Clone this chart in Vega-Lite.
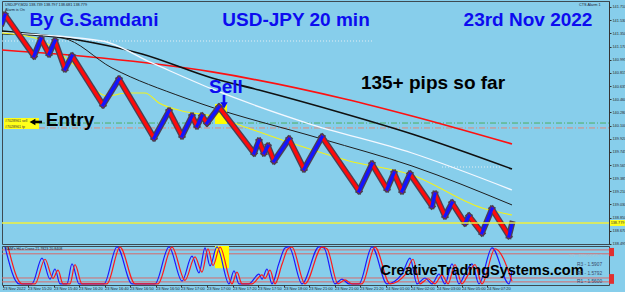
{
  "$schema": "https://vega.github.io/schema/vega-lite/v6.json",
  "background": "#87ceeb",
  "padding": 0,
  "spacing": 2,
  "bounds": "flush",
  "config": {"view": {"stroke": "#3d4a52", "strokeWidth": 1, "fill": "#87ceeb"}},
  "datasets": {
    "renko": [
      {"leg":0,"d":"up","n":0,"p":141.492},{"leg":0,"d":"up","n":3,"p":141.601},
      {"leg":1,"d":"dn","n":3,"p":141.601},{"leg":1,"d":"dn","n":32,"p":141.045},
      {"leg":2,"d":"up","n":32,"p":141.045},{"leg":2,"d":"up","n":39,"p":141.275},
      {"leg":3,"d":"dn","n":39,"p":141.275},{"leg":3,"d":"dn","n":47,"p":141.072},
      {"leg":4,"d":"up","n":47,"p":141.072},{"leg":4,"d":"up","n":53,"p":141.248},
      {"leg":5,"d":"dn","n":53,"p":141.248},{"leg":5,"d":"dn","n":63,"p":140.868},
      {"leg":6,"d":"up","n":63,"p":140.868},{"leg":6,"d":"up","n":70,"p":141.045},
      {"leg":7,"d":"dn","n":70,"p":141.045},{"leg":7,"d":"dn","n":101,"p":140.380},
      {"leg":8,"d":"up","n":101,"p":140.380},{"leg":8,"d":"up","n":117,"p":140.732},
      {"leg":9,"d":"dn","n":117,"p":140.732},{"leg":9,"d":"dn","n":152,"p":139.932},
      {"leg":10,"d":"up","n":152,"p":139.932},{"leg":10,"d":"up","n":167,"p":140.298},
      {"leg":11,"d":"dn","n":167,"p":140.298},{"leg":11,"d":"dn","n":180,"p":139.959},
      {"leg":12,"d":"up","n":180,"p":139.959},{"leg":12,"d":"up","n":190,"p":140.230},
      {"leg":13,"d":"dn","n":190,"p":140.230},{"leg":13,"d":"dn","n":195,"p":140.095},
      {"leg":14,"d":"up","n":195,"p":140.095},{"leg":14,"d":"up","n":200,"p":140.230},
      {"leg":15,"d":"dn","n":200,"p":140.230},{"leg":15,"d":"dn","n":205,"p":140.135},
      {"leg":16,"d":"up","n":205,"p":140.135},{"leg":16,"d":"up","n":217,"p":140.352},
      {"leg":17,"d":"dn","n":217,"p":140.352},{"leg":17,"d":"dn","n":252,"p":139.728},
      {"leg":18,"d":"up","n":252,"p":139.728},{"leg":18,"d":"up","n":257,"p":139.891},
      {"leg":19,"d":"dn","n":257,"p":139.891},{"leg":19,"d":"dn","n":262,"p":139.728},
      {"leg":20,"d":"up","n":262,"p":139.728},{"leg":20,"d":"up","n":266,"p":139.823},
      {"leg":21,"d":"dn","n":266,"p":139.823},{"leg":21,"d":"dn","n":272,"p":139.620},
      {"leg":22,"d":"up","n":272,"p":139.620},{"leg":22,"d":"up","n":287,"p":139.918},
      {"leg":23,"d":"dn","n":287,"p":139.918},{"leg":23,"d":"dn","n":302,"p":139.511},
      {"leg":24,"d":"up","n":302,"p":139.511},{"leg":24,"d":"up","n":320,"p":139.945},
      {"leg":25,"d":"dn","n":320,"p":139.945},{"leg":25,"d":"dn","n":357,"p":139.213},
      {"leg":26,"d":"up","n":357,"p":139.213},{"leg":26,"d":"up","n":370,"p":139.579},
      {"leg":27,"d":"dn","n":370,"p":139.579},{"leg":27,"d":"dn","n":385,"p":139.240},
      {"leg":28,"d":"up","n":385,"p":139.240},{"leg":28,"d":"up","n":392,"p":139.457},
      {"leg":29,"d":"dn","n":392,"p":139.457},{"leg":29,"d":"dn","n":400,"p":139.213},
      {"leg":30,"d":"up","n":400,"p":139.213},{"leg":30,"d":"up","n":408,"p":139.443},
      {"leg":31,"d":"dn","n":408,"p":139.443},{"leg":31,"d":"dn","n":430,"p":139.009},
      {"leg":32,"d":"up","n":430,"p":139.009},{"leg":32,"d":"up","n":433,"p":139.172},
      {"leg":33,"d":"dn","n":433,"p":139.172},{"leg":33,"d":"dn","n":443,"p":138.873},
      {"leg":34,"d":"up","n":443,"p":138.873},{"leg":34,"d":"up","n":450,"p":139.050},
      {"leg":35,"d":"dn","n":450,"p":139.050},{"leg":35,"d":"dn","n":463,"p":138.778},
      {"leg":36,"d":"up","n":463,"p":138.778},{"leg":36,"d":"up","n":467,"p":138.873},
      {"leg":37,"d":"dn","n":467,"p":138.873},{"leg":37,"d":"dn","n":480,"p":138.643},
      {"leg":38,"d":"up","n":480,"p":138.643},{"leg":38,"d":"up","n":490,"p":138.968},
      {"leg":39,"d":"dn","n":490,"p":138.968},{"leg":39,"d":"dn","n":507,"p":138.602},
      {"leg":40,"d":"up","n":507,"p":138.602},{"leg":40,"d":"up","n":510,"p":138.765}
    ],
    "ma": [
      {"s":"red","n":0,"p":141.126},{"s":"red","n":100,"p":141.017},{"s":"red","n":210,"p":140.828},{"s":"red","n":343,"p":140.461},{"s":"red","n":410,"p":140.230},{"s":"red","n":510,"p":139.850},
      {"s":"black","n":0,"p":141.384},{"s":"black","n":70,"p":141.275},{"s":"black","n":140,"p":141.072},{"s":"black","n":210,"p":140.746},{"s":"black","n":257,"p":140.583},{"s":"black","n":340,"p":140.271},{"s":"black","n":410,"p":139.986},{"s":"black","n":510,"p":139.511},
      {"s":"white","n":0,"p":141.357},{"s":"white","n":100,"p":141.248},{"s":"white","n":150,"p":140.950},{"s":"white","n":210,"p":140.597},{"s":"white","n":305,"p":140.135},{"s":"white","n":410,"p":139.728},{"s":"white","n":510,"p":139.226},
      {"s":"thin","n":0,"p":141.343},{"s":"thin","n":60,"p":141.289},{"s":"thin","n":110,"p":140.882},{"s":"thin","n":183,"p":140.475},{"s":"thin","n":200,"p":140.393},{"s":"thin","n":320,"p":139.918},{"s":"thin","n":410,"p":139.552},{"s":"thin","n":510,"p":139.023},
      {"s":"yellow","n":0,"p":141.357},{"s":"yellow","n":33,"p":141.289},{"s":"yellow","n":70,"p":140.950},{"s":"yellow","n":105,"p":140.502},{"s":"yellow","n":125,"p":140.543},{"s":"yellow","n":143,"p":140.543},{"s":"yellow","n":157,"p":140.407},{"s":"yellow","n":180,"p":140.298},{"s":"yellow","n":210,"p":140.230},{"s":"yellow","n":240,"p":140.095},{"s":"yellow","n":283,"p":139.891},{"s":"yellow","n":347,"p":139.620},{"s":"yellow","n":410,"p":139.430},{"s":"yellow","n":480,"p":138.982},{"s":"yellow","n":510,"p":138.887}
    ],
    "osc": [
      {"s":"b","n":3,"v":98},{"s":"b","n":17,"v":3},{"s":"b","n":30,"v":3},{"s":"b","n":40,"v":69},{"s":"b","n":48,"v":15},{"s":"b","n":53,"v":41},{"s":"b","n":58,"v":3},{"s":"b","n":65,"v":3},{"s":"b","n":70,"v":54},{"s":"b","n":77,"v":3},{"s":"b","n":102,"v":3},{"s":"b","n":115,"v":98},{"s":"b","n":130,"v":3},{"s":"b","n":153,"v":3},{"s":"b","n":167,"v":98},{"s":"b","n":180,"v":10},{"s":"b","n":190,"v":74},{"s":"b","n":197,"v":31},{"s":"b","n":203,"v":95},{"s":"b","n":208,"v":49},{"s":"b","n":215,"v":98},{"s":"b","n":227,"v":3},{"s":"b","n":232,"v":36},{"s":"b","n":237,"v":3},{"s":"b","n":247,"v":3},{"s":"b","n":257,"v":28},{"s":"b","n":260,"v":15},{"s":"b","n":265,"v":41},{"s":"b","n":270,"v":3},{"s":"b","n":277,"v":56},{"s":"b","n":283,"v":95},{"s":"b","n":287,"v":98},{"s":"b","n":300,"v":3},{"s":"b","n":317,"v":98},{"s":"b","n":322,"v":95},{"s":"b","n":333,"v":3},{"s":"b","n":340,"v":15},{"s":"b","n":347,"v":3},{"s":"b","n":357,"v":3},{"s":"b","n":370,"v":98},{"s":"b","n":385,"v":3},{"s":"b","n":400,"v":28},{"s":"b","n":408,"v":69},{"s":"b","n":415,"v":3},{"s":"b","n":423,"v":18},{"s":"b","n":430,"v":3},{"s":"b","n":437,"v":28},{"s":"b","n":443,"v":3},{"s":"b","n":450,"v":54},{"s":"b","n":457,"v":3},{"s":"b","n":463,"v":28},{"s":"b","n":470,"v":54},{"s":"b","n":477,"v":3},{"s":"b","n":490,"v":95},{"s":"b","n":507,"v":3},{"s":"b","n":510,"v":36},
      {"s":"r","n":6,"v":98},{"s":"r","n":20,"v":3},{"s":"r","n":33,"v":3},{"s":"r","n":43,"v":66},{"s":"r","n":51,"v":17},{"s":"r","n":56,"v":38},{"s":"r","n":61,"v":3},{"s":"r","n":68,"v":3},{"s":"r","n":73,"v":52},{"s":"r","n":80,"v":3},{"s":"r","n":105,"v":3},{"s":"r","n":118,"v":97},{"s":"r","n":133,"v":3},{"s":"r","n":156,"v":3},{"s":"r","n":170,"v":97},{"s":"r","n":183,"v":12},{"s":"r","n":193,"v":72},{"s":"r","n":200,"v":33},{"s":"r","n":206,"v":93},{"s":"r","n":211,"v":50},{"s":"r","n":218,"v":97},{"s":"r","n":230,"v":3},{"s":"r","n":235,"v":33},{"s":"r","n":240,"v":3},{"s":"r","n":250,"v":3},{"s":"r","n":260,"v":26},{"s":"r","n":263,"v":17},{"s":"r","n":268,"v":38},{"s":"r","n":273,"v":3},{"s":"r","n":280,"v":53},{"s":"r","n":286,"v":93},{"s":"r","n":290,"v":97},{"s":"r","n":303,"v":3},{"s":"r","n":320,"v":97},{"s":"r","n":325,"v":93},{"s":"r","n":336,"v":3},{"s":"r","n":343,"v":13},{"s":"r","n":350,"v":3},{"s":"r","n":360,"v":3},{"s":"r","n":373,"v":97},{"s":"r","n":388,"v":3},{"s":"r","n":403,"v":26},{"s":"r","n":411,"v":66},{"s":"r","n":418,"v":3},{"s":"r","n":426,"v":16},{"s":"r","n":433,"v":3},{"s":"r","n":440,"v":26},{"s":"r","n":446,"v":3},{"s":"r","n":453,"v":52},{"s":"r","n":460,"v":3},{"s":"r","n":466,"v":26},{"s":"r","n":473,"v":52},{"s":"r","n":480,"v":3},{"s":"r","n":493,"v":93},{"s":"r","n":510,"v":10}
    ]
  },
  "vconcat": [
    {
      "width": 607,
      "height": 243,
      "encoding": {
        "x": {"field": "n", "type": "quantitative", "scale": {"domain": [0, 607], "nice": false, "zero": false}, "axis": null},
        "y": {"field": "p", "type": "quantitative", "scale": {"domain": [138.493, 141.791], "nice": false, "zero": false},
          "axis": {"orient": "right", "values": [141.71,141.53,141.35,141.17,140.995,140.815,140.635,140.46,140.28,140.1,139.92,139.745,139.565,139.385,139.21,139.03,138.85,138.67,138.495], "format": ".3f", "labelFontSize": 3.8, "labelFont": "Liberation Sans", "labelColor": "#2a2a2a", "tickSize": 2, "tickColor": "#333", "domainColor": "#333", "labelPadding": 1, "grid": false, "title": null, "labelOverlap": false, "labelBound": false, "labelFlush": false}}
      },
      "layer": [
        {"data": {"values": [{"n":0,"n2":370,"p":141.248},{"n":440,"n2":500,"p":139.538}]}, "mark": {"type": "rule", "color": "#e4eef4", "strokeWidth": 1, "strokeDash": [1, 2], "clip": true}, "encoding": {"x2": {"field": "n2"}}},
        {"data": {"values": [{"n":37,"n2":607,"p":140.135}]}, "mark": {"type": "rule", "color": "#4caf62", "strokeWidth": 1, "strokeDash": [6, 2, 1, 2], "clip": true}, "encoding": {"x2": {"field": "n2"}}},
        {"data": {"values": [{"n":37,"n2":607,"p":140.068}]}, "mark": {"type": "rule", "color": "#e08a78", "strokeWidth": 1, "strokeDash": [6, 2, 1, 2], "clip": true}, "encoding": {"x2": {"field": "n2"}}},
        {"data": {"name": "ma"}, "transform": [{"filter": "datum.s === 'red'"}], "mark": {"type": "line", "color": "#ff1010", "strokeWidth": 1.7, "interpolate": "monotone", "clip": true}, "encoding": {}},
        {"data": {"name": "ma"}, "transform": [{"filter": "datum.s === 'black'"}], "mark": {"type": "line", "color": "#101010", "strokeWidth": 1.6, "interpolate": "monotone", "clip": true}, "encoding": {}},
        {"data": {"name": "ma"}, "transform": [{"filter": "datum.s === 'white'"}], "mark": {"type": "line", "color": "#f4f8ff", "strokeWidth": 1.3, "interpolate": "monotone", "clip": true}, "encoding": {}},
        {"data": {"name": "ma"}, "transform": [{"filter": "datum.s === 'thin'"}], "mark": {"type": "line", "color": "#1e1e1e", "strokeWidth": 1, "interpolate": "monotone", "clip": true}, "encoding": {}},
        {"data": {"name": "ma"}, "transform": [{"filter": "datum.s === 'yellow'"}], "mark": {"type": "line", "color": "#f2f21a", "strokeWidth": 1.1, "interpolate": "monotone", "clip": true}, "encoding": {}},
        {"data": {"values": [{"n":213,"n2":225,"p":140.393,"p2":140.122}]}, "mark": {"type": "rect", "color": "#ffff00"}, "encoding": {"x2": {"field": "n2"}, "y2": {"field": "p2"}}},
        {"data": {"name": "renko"}, "mark": {"type": "line", "color": "#4d3f52", "strokeWidth": 6, "strokeCap": "square", "clip": true}, "encoding": {"detail": {"field": "leg"}}},
        {"data": {"name": "renko"}, "transform": [{"filter": "datum.d === 'dn'"}], "mark": {"type": "line", "color": "#ff0a0a", "strokeWidth": 3.3, "strokeCap": "square", "clip": true}, "encoding": {"detail": {"field": "leg"}}},
        {"data": {"name": "renko"}, "transform": [{"filter": "datum.d === 'up'"}], "mark": {"type": "line", "color": "#1414ff", "strokeWidth": 3.3, "strokeCap": "square", "clip": true}, "encoding": {"detail": {"field": "leg"}}},
        {"data": {"values": [{"n":0,"n2":607,"p":138.778}]}, "mark": {"type": "rule", "color": "#f0f03c", "strokeWidth": 1.5}, "encoding": {"x2": {"field": "n2"}}},
        {"data": {"values": [{"n":2,"n2":37,"p":140.203,"p2":140.054},{"n":608,"n2":623,"p":138.819,"p2":138.738}]}, "mark": {"type": "rect", "color": "#ffff1a"}, "encoding": {"x2": {"field": "n2"}, "y2": {"field": "p2"}}},
        {"data": {"values": [{"n":3,"p":140.163,"t":"#7028961 sell"},{"n":3,"p":140.081,"t":"#7028961 tp"}]}, "mark": {"type": "text", "align": "left", "baseline": "middle", "fontSize": 3.6, "font": "Liberation Sans", "color": "#333"}, "encoding": {"text": {"field": "t"}}},
        {"data": {"values": [{"n":615.5,"p":138.778,"t":"138.779"}]}, "mark": {"type": "text", "align": "center", "baseline": "middle", "fontSize": 3.8, "font": "Liberation Sans", "color": "#333"}, "encoding": {"text": {"field": "t"}}},
        {"data": {"values": [{"n":92,"p":141.445,"t":"By G.Samdani"},{"n":294,"p":141.445,"t":"USD-JPY 20 min"},{"n":526,"p":141.445,"t":"23rd Nov 2022"},{"n":224,"p":140.543,"t":"Sell"}]}, "mark": {"type": "text", "align": "center", "baseline": "alphabetic", "fontSize": 19, "fontWeight": "bold", "font": "Liberation Sans", "color": "#0c0cf0"}, "encoding": {"text": {"field": "t"}}},
        {"data": {"values": [{"n":431,"p":140.597,"t":"135+ pips so far"},{"n":68,"p":140.088,"t":"Entry"}]}, "mark": {"type": "text", "align": "center", "baseline": "alphabetic", "fontSize": 19, "fontWeight": "bold", "font": "Liberation Sans", "color": "#000"}, "encoding": {"text": {"field": "t"}}},
        {"data": {"values": [{"n":31,"n2":40,"p":140.149}]}, "mark": {"type": "rule", "color": "#000", "strokeWidth": 2.6}, "encoding": {"x2": {"field": "n2"}}},
        {"data": {"values": [{"n":30.5,"p":140.149}]}, "mark": {"type": "point", "shape": "triangle-left", "filled": true, "color": "#000", "size": 45, "opacity": 1}, "encoding": {}},
        {"data": {"values": [{"n":222,"p":140.516,"p2":140.400}]}, "mark": {"type": "rule", "color": "#0c0cf0", "strokeWidth": 2.6}, "encoding": {"y2": {"field": "p2"}}},
        {"data": {"values": [{"n":222,"p":140.372}]}, "mark": {"type": "point", "shape": "triangle-down", "filled": true, "color": "#0c0cf0", "size": 55, "opacity": 1}, "encoding": {}},
        {"data": {"values": [{"n":3,"p":141.737,"t":"USDJPY,M20  138.739 138.797 138.681 138.779"},{"n":3,"p":141.669,"t":"Alarm is On"},{"n":577,"p":141.737,"t":"CTS Alarm 1"}]}, "mark": {"type": "text", "align": "left", "baseline": "middle", "fontSize": 3.8, "font": "Liberation Sans", "color": "#1a1a30"}, "encoding": {"text": {"field": "t"}}}
      ]
    },
    {
      "width": 607,
      "height": 39,
      "encoding": {
        "x": {"field": "n", "type": "quantitative", "scale": {"domain": [0, 607], "nice": false, "zero": false},
          "axis": {"orient": "bottom", "values": [1,26,52,77,103,128,154,179,205,231,256,282,307,333,358,384,409,435,460,485], "labels": false, "tickSize": 2, "tickColor": "#333", "domain": false, "grid": false, "title": null}},
        "y": {"field": "v", "type": "quantitative", "scale": {"domain": [0, 100], "nice": false, "zero": false}, "axis": null}
      },
      "layer": [
        {"data": {"values": [{"n":0,"n2":607,"v":90},{"n":0,"n2":607,"v":80},{"n":0,"n2":607,"v":18},{"n":0,"n2":607,"v":8}]}, "mark": {"type": "rule", "color": "#d86a6a", "strokeWidth": 1}, "encoding": {"x2": {"field": "n2"}}},
        {"data": {"values": [{"n":213,"n2":227,"v":100,"v2":43}]}, "mark": {"type": "rect", "color": "#ffff00"}, "encoding": {"x2": {"field": "n2"}, "y2": {"field": "v2"}}},
        {"data": {"name": "osc"}, "transform": [{"filter": "datum.s === 'b'"}], "mark": {"type": "line", "color": "#1a1aff", "strokeWidth": 1.2, "interpolate": "monotone", "clip": true}, "encoding": {}},
        {"data": {"name": "osc"}, "transform": [{"filter": "datum.s === 'r'"}], "mark": {"type": "line", "color": "#ff1a1a", "strokeWidth": 1.2, "interpolate": "monotone", "clip": true}, "encoding": {}},
        {"data": {"values": [{"n":607,"n2":612,"v":95,"v2":74},{"n":607,"n2":612,"v":28,"v2":3}]}, "mark": {"type": "rect", "color": "#e03030"}, "encoding": {"x2": {"field": "n2"}, "y2": {"field": "v2"}}},
        {"data": {"values": [{"n":480,"v":26.9,"t":"CreativeTradingSystems.com"}]}, "mark": {"type": "text", "align": "center", "baseline": "alphabetic", "fontSize": 14.5, "fontWeight": "bold", "font": "Liberation Sans", "color": "#000"}, "encoding": {"text": {"field": "t"}}},
        {"data": {"values": [{"n":3,"v":92,"t":"RAM's HiLo Cross 21.7823 20.8408"}]}, "mark": {"type": "text", "align": "left", "baseline": "middle", "fontSize": 3.6, "font": "Liberation Sans", "color": "#1a1a30"}, "encoding": {"text": {"field": "t"}}},
        {"data": {"values": [{"n":575,"v":51,"t":"R3 - 1.5907"},{"n":575,"v":28,"t":"R2 - 1.5792"},{"n":575,"v":8,"t":"R1 - 1.5600"}]}, "mark": {"type": "text", "align": "left", "baseline": "middle", "fontSize": 4.8, "font": "Liberation Sans", "color": "#3a4a6a"}, "encoding": {"text": {"field": "t"}}},
        {"data": {"values": [{"n":567,"v":74,"t":"SR - 4880.HH55.7"}]}, "mark": {"type": "text", "align": "left", "baseline": "middle", "fontSize": 4, "font": "Liberation Sans", "color": "#a8c4d4"}, "encoding": {"text": {"field": "t"}}},
        {"data": {"values": [
          {"n":1,"v":-11,"t":"23 Nov 2022"},{"n":26,"v":-11,"t":"23 Nov 15:20"},{"n":52,"v":-11,"t":"23 Nov 15:40"},{"n":77,"v":-11,"t":"23 Nov 16:20"},{"n":103,"v":-11,"t":"23 Nov 16:40"},{"n":128,"v":-11,"t":"23 Nov 16:50"},{"n":154,"v":-11,"t":"23 Nov 16:50"},{"n":179,"v":-11,"t":"23 Nov 17:00"},{"n":205,"v":-11,"t":"23 Nov 17:00"},{"n":231,"v":-11,"t":"23 Nov 17:20"},{"n":256,"v":-11,"t":"23 Nov 17:50"},{"n":282,"v":-11,"t":"23 Nov 18:00"},{"n":307,"v":-11,"t":"23 Nov 21:00"},{"n":333,"v":-11,"t":"23 Nov 21:00"},{"n":358,"v":-11,"t":"23 Nov 21:20"},{"n":384,"v":-11,"t":"24 Nov 01:00"},{"n":409,"v":-11,"t":"24 Nov 02:00"},{"n":435,"v":-11,"t":"24 Nov 03:00"},{"n":460,"v":-11,"t":"24 Nov 05:00"},{"n":485,"v":-11,"t":"24 Nov 07:20"}
        ]}, "mark": {"type": "text", "align": "left", "baseline": "middle", "fontSize": 4, "font": "Liberation Sans", "color": "#1a1a30"}, "encoding": {"text": {"field": "t"}}}
      ]
    }
  ]
}
